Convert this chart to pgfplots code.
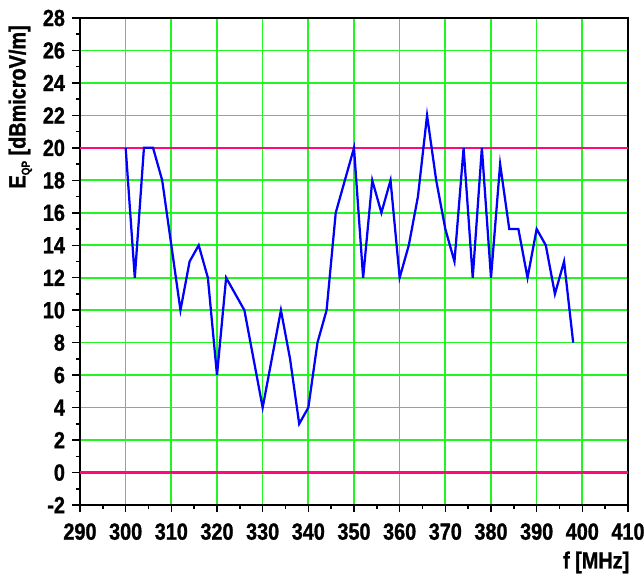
\documentclass[border=0pt]{standalone}
\usepackage{fontspec}
\setmainfont{Liberation Sans}[
  FakeStretch=0.85,
  BoldFont={Liberation Sans Bold},
  BoldFeatures={FakeStretch=0.85, FakeBold=1.2}]
\usepackage{pgfplots}
\pgfplotsset{compat=1.18}
\definecolor{gridgreen}{HTML}{22F522}
\definecolor{limitred}{HTML}{FF0A78}
\definecolor{traceblue}{HTML}{0000FF}

\begin{document}
\begin{tikzpicture}
\path[use as bounding box] (-48pt,-42.6pt) rectangle (338.4pt,303pt);
\begin{axis}[
  at={(0,0)}, anchor=south west,
  scale only axis,
  width=328.8pt, height=292.2pt,
  xmin=290, xmax=410, ymin=-2, ymax=28,
  xtick={290,300,...,410}, ytick={-2,0,...,28},
  minor x tick num=1, minor y tick num=1,
  tick align=outside, xtick pos=left, ytick pos=left,
  major tick length=4.5pt, minor tick length=2.5pt,
  tick style={black, line width=0.9pt},
  axis line style={black, line width=1.2pt},
  grid=major, grid style={gridgreen, line width=1pt},
  xticklabel={\bfseries\pgfmathprintnumber[assume math mode=true]{\tick}},
  yticklabel={\bfseries\pgfmathprintnumber[assume math mode=true]{\tick}},
  tick label style={font=\fontsize{14}{16}\selectfont\bfseries},
  xticklabel style={yshift=-3pt},
  yticklabel style={xshift=-1pt},
  xlabel={f [MHz]},
  xlabel style={at={(axis description cs:1.013,-0.118)}, anchor=east,
    font=\fontsize{14}{16}\selectfont\bfseries},
  ylabel={E\raisebox{-0.35ex}{\fontsize{7}{8}\selectfont\bfseries QP} [dBmicroV/m]},
  ylabel style={at={(axis description cs:-0.109,0.997)}, anchor=east,
    font=\fontsize{14}{16}\selectfont\bfseries},
]
\addplot[limitred, line width=1.5pt, forget plot] coordinates {(290,20)(410,20)};
\addplot[limitred, line width=1.5pt, forget plot] coordinates {(290,0)(410,0)};
\addplot[traceblue, line width=1.35pt, line join=miter, mark=none] coordinates {
  (300,20)(302,12)(304,20)(306,20)(308,18)(310,14)(312,10)(314,13)(316,14)
  (318,12)(320,6)(322,12)(326,10)(330,4)(334,10)(336,7)(338,3)(340,4)
  (342,8)(344,10)(346,16)(350,20)(352,12)(354,18)(356,16)(358,18)(360,12)
  (362,14)(364,17)(366,22)(368,18)(370,15)(372,13)(374,20)(376,12)(378,20)
  (380,12)(382,19)(384,15)(386,15)(388,12)(390,15)(392,14)(394,11)(396,13)
  (398,8)
};
\end{axis}
\end{tikzpicture}
\end{document}
